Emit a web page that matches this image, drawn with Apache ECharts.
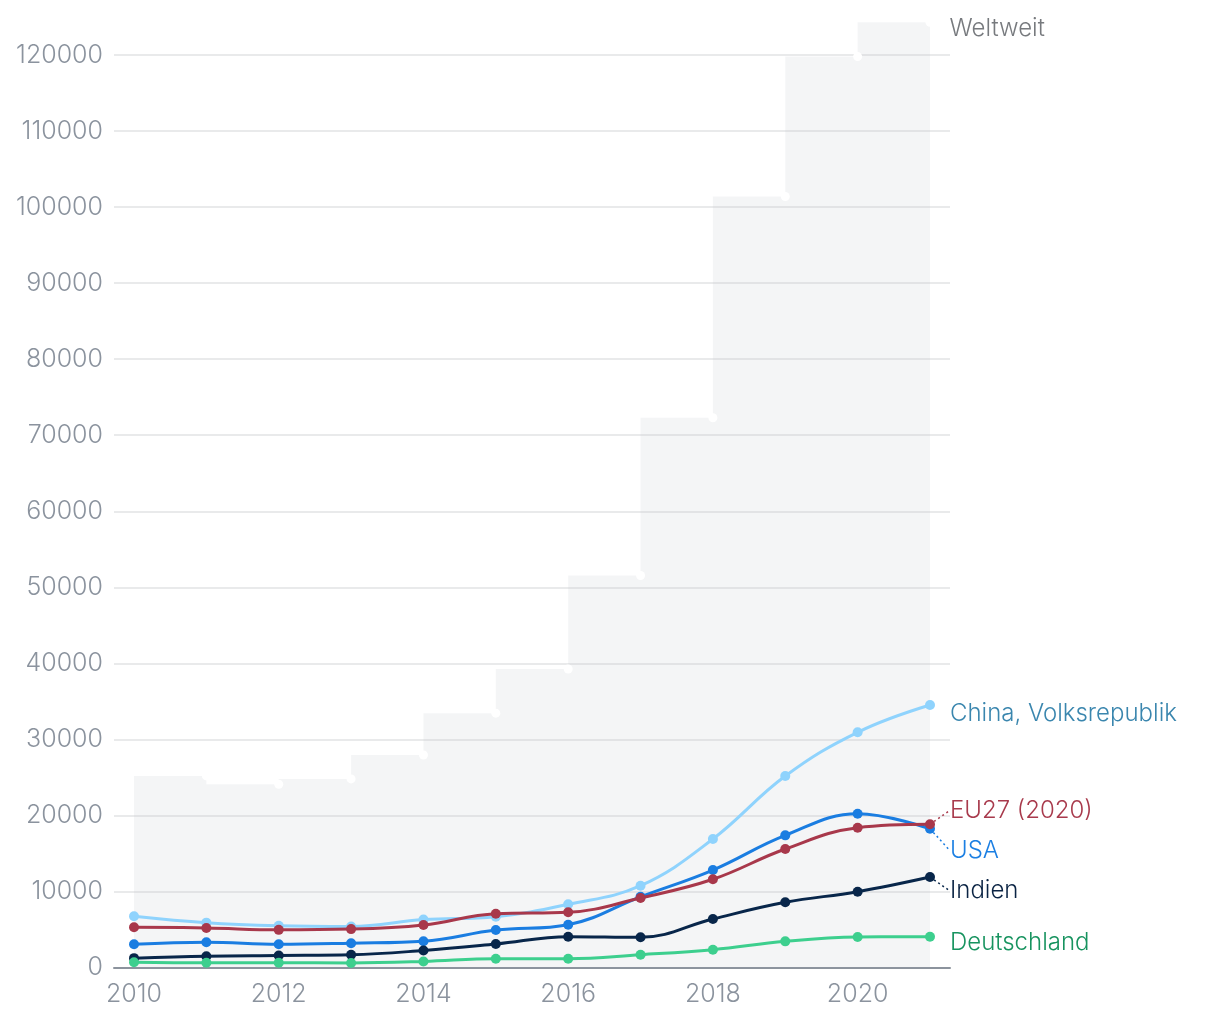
<!DOCTYPE html>
<html>
<head>
<meta charset="utf-8">
<script src="https://cdn.jsdelivr.net/npm/echarts@6/dist/echarts.min.js"></script>
<style>
html,body{margin:0;padding:0;background:#fff;}
#chart{width:1220px;height:1020px;}
</style>
</head>
<body>
<div id="chart"></div>
<script>
// ---- data ----
const years = [2010, 2011, 2012, 2013, 2014, 2015, 2016, 2017, 2018, 2019, 2020, 2021];
const xTickLabels = [2010, 2012, 2014, 2016, 2018, 2020];
const weltweit = [25200, 25200, 24100, 24800, 27950, 33450, 39250, 51550, 72300, 101400, 119800, 124300];
const china = [6750, 5900, 5500, 5400, 6300, 6680, 8310, 10760, 16900, 25180, 30930, 34520];
const usa = [3050, 3330, 3050, 3200, 3450, 4930, 5630, 9300, 12820, 17380, 20230, 18250];
const eu27 = [5300, 5200, 4950, 5050, 5600, 7080, 7260, 9140, 11600, 15580, 18390, 18830];
const indien = [1230, 1490, 1580, 1670, 2240, 3090, 4050, 3970, 6380, 8570, 9970, 11900];
const deutschland = [700, 620, 620, 600, 790, 1160, 1160, 1680, 2340, 3440, 4010, 4050];
const seriesNames = ['Weltweit', 'China, Volksrepublik', 'USA', 'EU27 (2020)', 'Indien', 'Deutschland'];

// ---- styles ----
const FONT = 'Inter';
const labelShift = {
  'Weltweit': 6,
  'China, Volksrepublik': 9,
  'EU27 (2020)': -14,
  'USA': 22,
  'Indien': 14,
  'Deutschland': 6
};
const withGuide = {'EU27 (2020)': true, 'USA': true, 'Indien': true};

function pairs(vals) {
  return vals.map((v, i) => [years[i], v]);
}

function lineSeries(name, vals, lineColor, textColor, z) {
  const data = pairs(vals).map((p, i) => {
    if (i === vals.length - 1) {
      return {value: p, label: {show: true}};
    }
    return {value: p};
  });
  return {
    name: name,
    type: 'line',
    data: data,
    smooth: 0.4,
    z: z,
    symbol: 'circle',
    symbolSize: 10,
    showAllSymbol: true,
    lineStyle: {color: lineColor, width: 3},
    itemStyle: {color: lineColor},
    emphasis: {disabled: true},
    label: {
      show: false,
      position: 'right',
      distance: 15,
      formatter: name,
      color: textColor,
      fontFamily: FONT,
      fontWeight: 300,
      fontSize: 24
    },
    labelLine: {
      show: !!withGuide[name],
      length2: 0,
      lineStyle: {color: lineColor, type: [2, 3], width: 1.5}
    },
    labelLayout: function () {
      return {dy: labelShift[name]};
    }
  };
}

const weltData = pairs(weltweit).map((p, i) => {
  const item = {value: p};
  if (i === 0) item.symbol = 'none';
  if (i === weltweit.length - 1) item.label = {show: true};
  return item;
});

const chart = echarts.init(document.getElementById('chart'), null, {renderer: 'canvas'});
chart.setOption({
  animation: false,
  backgroundColor: '#ffffff',
  grid: {left: 114, right: 270, top: -21, bottom: 52.5, containLabel: false, outerBoundsMode: 'none'},
  xAxis: {
    type: 'value',
    min: 2009.7236,
    max: 2021.2764,
    axisLine: {show: true, lineStyle: {color: '#8c939d', width: 2}},
    axisTick: {show: false},
    splitLine: {show: false},
    axisLabel: {
      customValues: xTickLabels,
      color: '#8b939e',
      fontFamily: FONT,
      fontWeight: 300,
      fontSize: 25,
      margin: 14,
      formatter: v => String(v)
    }
  },
  yAxis: {
    type: 'value',
    min: 0,
    max: 130000,
    interval: 10000,
    axisLine: {show: false},
    axisTick: {show: false},
    splitLine: {show: true, lineStyle: {color: '#e2e3e5', width: 1.5}},
    axisLabel: {
      color: '#8b939e',
      fontFamily: FONT,
      fontWeight: 300,
      fontSize: 25,
      margin: 11,
      formatter: v => String(v)
    }
  },
  series: [
    {
      name: seriesNames[0],
      type: 'line',
      step: 'start',
      data: weltData,
      z: 1,
      symbol: 'circle',
      symbolSize: 9,
      showAllSymbol: true,
      lineStyle: {width: 0, opacity: 0},
      itemStyle: {color: '#ffffff'},
      areaStyle: {color: 'rgba(190,196,206,0.25)', origin: 'start'},
      emphasis: {disabled: true},
      label: {
        show: false,
        position: 'right',
        distance: 15,
        formatter: seriesNames[0],
        color: '#777a7e',
        fontFamily: FONT,
        fontWeight: 300,
        fontSize: 24
      },
      labelLayout: function () {
        return {dy: labelShift['Weltweit']};
      }
    },
    lineSeries(seriesNames[1], china, '#8fd3fd', '#3a86ae', 3),
    lineSeries(seriesNames[2], usa, '#1a7de1', '#1b7fe3', 4),
    lineSeries(seriesNames[3], eu27, '#a8384b', '#a83a4c', 5),
    lineSeries(seriesNames[4], indien, '#08264a', '#0b2444', 6),
    lineSeries(seriesNames[5], deutschland, '#3dcf8e', '#17935f', 7)
  ]
});
</script>
</body>
</html>
